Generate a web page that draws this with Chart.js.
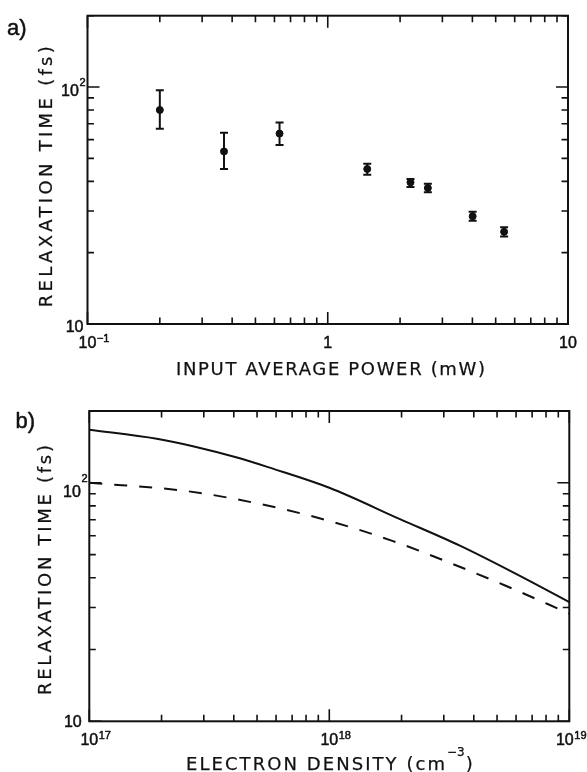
<!DOCTYPE html>
<html><head><meta charset="utf-8">
<script src="https://cdn.jsdelivr.net/npm/chart.js@4.4.1/dist/chart.umd.min.js"></script>
<style>
html,body{margin:0;padding:0;background:#fff;}
#wrap{position:relative;width:587px;height:772px;overflow:hidden;background:#fff;}
canvas{position:absolute;left:0;}
#ca{top:0;} #cb{top:390px;}
</style></head><body>
<div id="wrap"><canvas id="ca" width="587" height="390"></canvas><canvas id="cb" width="587" height="382"></canvas></div>
<script>
// ---- Panel a: measured relaxation time vs input average power ----
const powerMW    = [0.2, 0.37, 0.63, 1.46, 2.21, 2.61, 4.01, 5.42];
const relaxA     = [80, 53.5, 63.6, 45.1, 39.6, 37.5, 28.5, 24.5];
const relaxAHigh = [97, 64.2, 70.8, 47.5, 40.9, 39.1, 29.8, 25.6];
const relaxALow  = [66.7, 45.1, 56.9, 42.6, 37.9, 36.0, 27.3, 23.4];

// ---- Panel b: calculated relaxation time vs electron density ----
const densitySolid  = [1e17, 1.91e17, 2.73e17, 4.2e17, 5.6e17, 1e18, 1.97e18, 3.5e18, 6e18, 1e19];
const relaxSolid    = [167, 153, 142, 127, 116, 95.3, 70.4, 54.5, 41.5, 31.6];
const densityDashed = [1e17, 2.55e17, 5.2e17, 1e18, 1.83e18, 3.14e18, 5.4e18, 1e19];
const relaxDashed   = [100, 92.3, 81.3, 69.2, 57.1, 46.4, 37.1, 28.3];

// ---- Axis ticks and labels ----
const xTicksA = [0.1, 1, 10];
const xTickLabelsA = [['10', '\u22121'], ['1', ''], ['10', '']];
const xTicksB = [1e17, 1e18, 1e19];
const xTickLabelsB = [['10', '17'], ['10', '18'], ['10', '19']];
const yTicks = [10, 100];
const yTickLabels = [['10', ''], ['10', '2']];
const titleXA = 'INPUT AVERAGE POWER (mW)';
const titleXB = ['ELECTRON DENSITY (cm', '\u22123', ')'];
const titleY = 'RELAXATION TIME (fs)';
const panelLabels = ['a)', 'b)'];

const FONT = '"Liberation Sans", Arial, sans-serif';
const TFONT = '"DejaVu Sans", sans-serif';

function logTicks(min, max) {
  const out = [];
  for (let d = Math.floor(Math.log10(min)) - 1; d <= Math.ceil(Math.log10(max)); d++) {
    for (let k = 1; k < 10; k++) {
      const v = k * Math.pow(10, d);
      if (v >= min * 0.9999 && v <= max * 1.0001) out.push({ v, major: k === 1 });
    }
  }
  return out;
}

function txt(ctx, s, x, y) {
  ctx.fillText(s, x, y);
  ctx.strokeText(s, x, y);
}

function spaced(ctx, text, x, y, target, font) {
  ctx.font = font;
  ctx.letterSpacing = '0px';
  const w0 = ctx.measureText(text).width;
  const n = [...text].length;
  const sp = (target - w0) / (n - 1);
  ctx.letterSpacing = sp + 'px';
  ctx.textAlign = 'left';
  txt(ctx, text, x, y);
  ctx.letterSpacing = '0px';
  return x + target;
}

const frameTicks = {
  id: 'frameTicks',
  afterDraw(chart, args, o) {
    const { ctx, chartArea: a, scales: { x, y } } = chart;
    ctx.save();
    ctx.strokeStyle = '#111';
    ctx.fillStyle = '#111';
    ctx.lineCap = 'butt';
    ctx.lineWidth = 1.6;
    ctx.beginPath();
    for (const t of logTicks(x.min, x.max)) {
      const px = x.getPixelForValue(t.v);
      const L = t.major ? 12 : 6.5;
      ctx.moveTo(px, a.bottom); ctx.lineTo(px, a.bottom - L);
      ctx.moveTo(px, a.top); ctx.lineTo(px, a.top + L);
    }
    for (const t of logTicks(y.min, y.max)) {
      const py = y.getPixelForValue(t.v);
      const L = t.major ? 12 : 6.5;
      ctx.moveTo(a.left, py); ctx.lineTo(a.left + L, py);
      ctx.moveTo(a.right, py); ctx.lineTo(a.right - L, py);
    }
    ctx.stroke();
    ctx.lineWidth = 2;
    ctx.strokeRect(a.left, a.top, a.right - a.left, a.bottom - a.top);

    ctx.lineWidth = 0.5;
    ctx.lineJoin = 'round';
    const baseFont = '16px ' + FONT, supFont = '11px ' + FONT;
    ctx.textAlign = 'left';
    ctx.textBaseline = 'alphabetic';
    // x tick labels
    o.xTicks.forEach((v, i) => {
      const [b, s] = o.xLabels[i];
      const px = x.getPixelForValue(v);
      ctx.font = baseFont; const bw = ctx.measureText(b).width;
      ctx.font = supFont; const sw = s ? ctx.measureText(s).width : 0;
      let left = px - bw / 2;
      if (left + bw + sw > chart.width - 1) left = chart.width - 1 - bw - sw;
      const by = a.bottom + 24;
      ctx.font = baseFont; txt(ctx, b, left, by);
      if (s) { ctx.font = supFont; txt(ctx, s, left + bw + 0.5, by - 6); }
    });
    // y tick labels
    o.yTicks.forEach((v, i) => {
      const [b, s] = o.yLabels[i];
      const py = y.getPixelForValue(v);
      ctx.font = baseFont; const bw = ctx.measureText(b).width;
      ctx.font = supFont; const sw = s ? ctx.measureText(s).width : 0;
      const right = a.left - o.yGap[i];
      const left = right - bw - sw;
      const by = py + o.yDy[i];
      ctx.font = baseFont; txt(ctx, b, left, by);
      if (s) { ctx.font = supFont; txt(ctx, s, left + bw + 0.5, by - o.supDy[i]); }
    });
    // x title
    ctx.lineWidth = 0.25;
    const tFont = '18px ' + TFONT;
    if (typeof o.xTitle === 'string') {
      spaced(ctx, o.xTitle, o.xtLeft, o.xtBase, o.xtWidth, tFont);
    } else {
      const end = spaced(ctx, o.xTitle[0], o.xtLeft, o.xtBase, o.xtWidth, tFont);
      ctx.font = '12px ' + TFONT;
      txt(ctx, o.xTitle[1], end + 2, o.xtBase - 14);
      const sw = ctx.measureText(o.xTitle[1]).width;
      ctx.font = tFont;
      txt(ctx, o.xTitle[2], end + 3 + sw, o.xtBase);
    }
    // y title (rotated)
    ctx.save();
    ctx.translate(o.ytBase, o.ytCenter);
    ctx.rotate(-Math.PI / 2);
    spaced(ctx, titleY, -o.ytLen / 2, 0, o.ytLen, tFont);
    ctx.restore();
    // panel label
    ctx.lineWidth = 0.5;
    ctx.font = '22px ' + FONT;
    ctx.letterSpacing = '0px';
    txt(ctx, o.panel, o.panelX, o.panelY);
    ctx.restore();
  }
};

const common = {
  responsive: false,
  animation: false,
  devicePixelRatio: 1,
  events: [],
  plugins: { legend: { display: false }, tooltip: { enabled: false } }
};

// ---- Chart a ----
const errDatasets = powerMW.map((p, i) => ({
  type: 'line',
  data: [{ x: p, y: relaxALow[i] }, { x: p, y: relaxAHigh[i] }],
  borderColor: '#111', borderWidth: 2, pointRadius: 0, showLine: true, borderCapStyle: 'butt'
}));
const capData = powerMW.map((p, i) => ({ x: p, y: relaxAHigh[i] }))
  .concat(powerMW.map((p, i) => ({ x: p, y: relaxALow[i] })));

new Chart(document.getElementById('ca'), {
  type: 'scatter',
  data: {
    datasets: [
      ...errDatasets,
      { data: capData, pointStyle: 'line', pointRadius: 4, borderWidth: 2, borderColor: '#111' },
      { data: powerMW.map((p, i) => ({ x: p, y: relaxA[i] })), pointRadius: 3.5, borderWidth: 1,
        backgroundColor: '#111', borderColor: '#111' }
    ]
  },
  options: Object.assign({}, common, {
    layout: { padding: { left: 87.5, right: 19, top: 15.7, bottom: 66 } },
    scales: {
      x: { type: 'logarithmic', min: 0.1, max: 10, display: false },
      y: { type: 'logarithmic', min: 10, max: 200, display: false }
    },
    plugins: Object.assign({}, common.plugins, {
      frameTicks: {
        xTicks: xTicksA, xLabels: xTickLabelsA, yTicks: yTicks, yLabels: yTickLabels,
        yGap: [4, 2.5], yDy: [7.7, 9], supDy: [0, 10],
        xTitle: titleXA, xtLeft: 176, xtBase: 375, xtWidth: 309,
        ytBase: 52, ytCenter: 176.7, ytLen: 261,
        panel: panelLabels[0], panelX: 7, panelY: 35
      }
    })
  }),
  plugins: [frameTicks]
});

// ---- Chart b ----
new Chart(document.getElementById('cb'), {
  type: 'scatter',
  data: {
    datasets: [
      { data: densitySolid.map((d, i) => ({ x: d, y: relaxSolid[i] })), showLine: true,
        borderColor: '#111', borderWidth: 2, pointRadius: 0, cubicInterpolationMode: 'monotone' },
      { data: densityDashed.map((d, i) => ({ x: d, y: relaxDashed[i] })), showLine: true,
        borderColor: '#111', borderWidth: 2, pointRadius: 0, borderDash: [13, 12],
        cubicInterpolationMode: 'monotone' }
    ]
  },
  options: Object.assign({}, common, {
    layout: { padding: { left: 89.3, right: 17.7, top: 21, bottom: 50.7 } },
    scales: {
      x: { type: 'logarithmic', min: 1e17, max: 1e19, display: false },
      y: { type: 'logarithmic', min: 10, max: 200, display: false }
    },
    plugins: Object.assign({}, common.plugins, {
      frameTicks: {
        xTicks: xTicksB, xLabels: xTickLabelsB, yTicks: yTicks, yLabels: yTickLabels,
        yGap: [7.6, 2.3], yDy: [5.5, 14], supDy: [0, 15],
        xTitle: titleXB, xtLeft: 186, xtBase: 379.5, xtWidth: 259,
        ytBase: 51, ytCenter: 180, ytLen: 250,
        panel: panelLabels[1], panelX: 15.5, panelY: 38.3
      }
    })
  }),
  plugins: [frameTicks]
});
</script>
</body></html>
